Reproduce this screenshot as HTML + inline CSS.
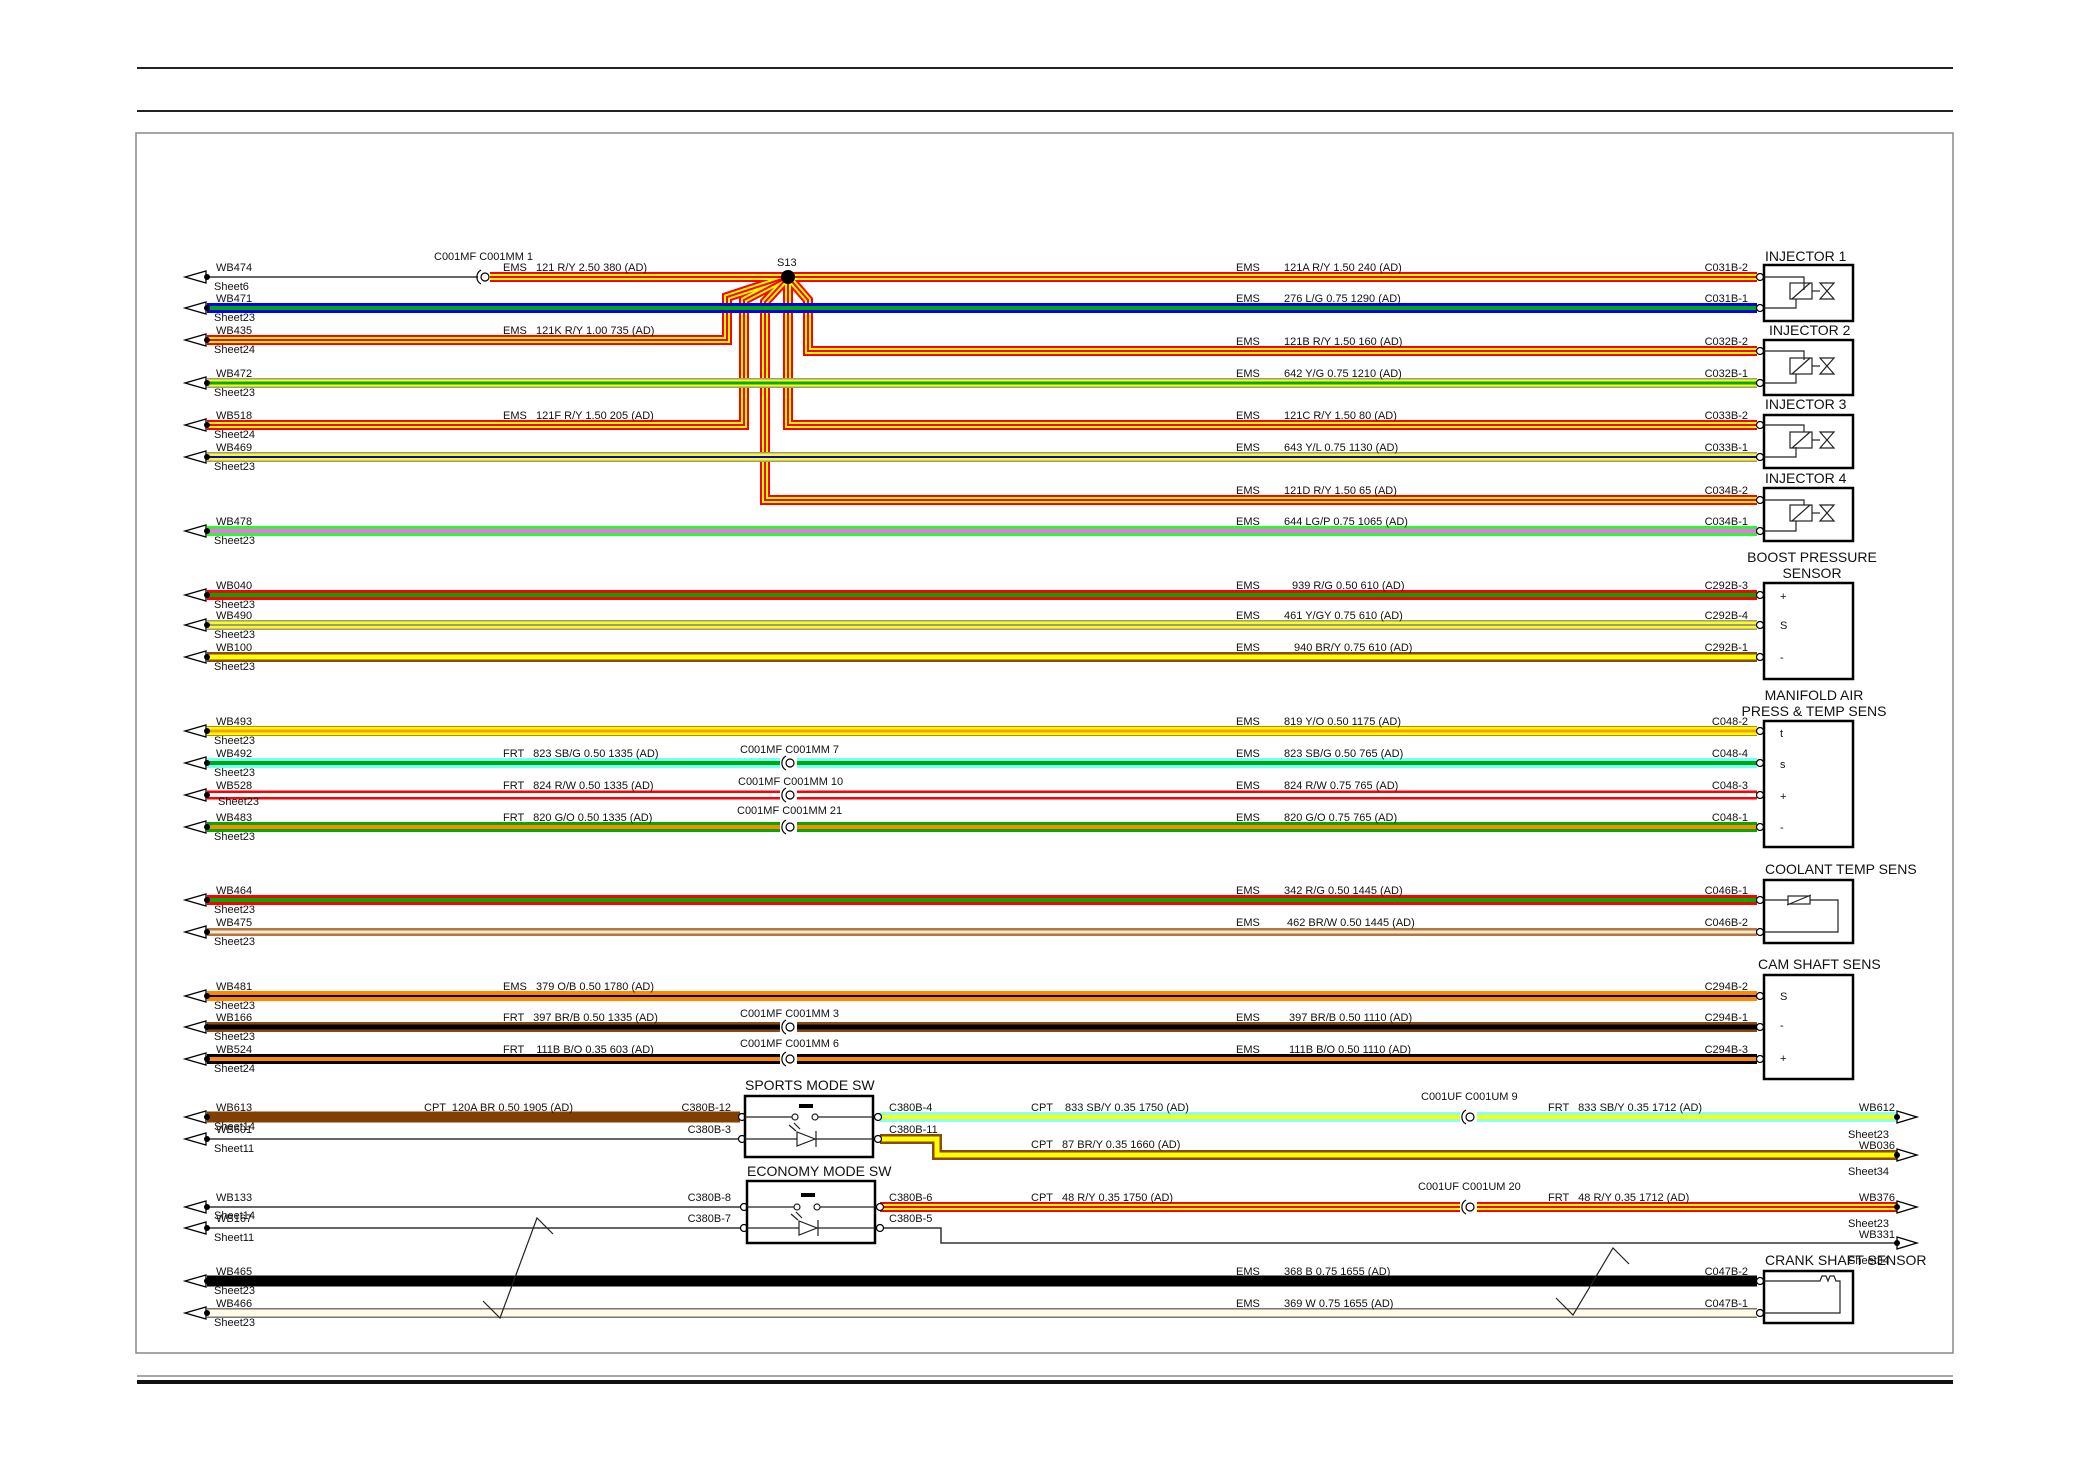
<!DOCTYPE html>
<html><head><meta charset="utf-8"><style>
html,body{margin:0;padding:0;background:#fff}
svg{display:block}
text{font-family:"Liberation Sans",sans-serif;font-size:11px;fill:#111}
.t{font-size:14px}
polyline{fill:none;stroke-linejoin:miter}
</style></head><body>
<svg width="2080" height="1471" viewBox="0 0 2080 1471" xmlns="http://www.w3.org/2000/svg">
<rect width="2080" height="1471" fill="#fff"/>
<line x1="137" y1="68" x2="1953" y2="68" stroke="#222" stroke-width="2"/>
<line x1="137" y1="111" x2="1953" y2="111" stroke="#222" stroke-width="2"/>
<rect x="136" y="133" width="1817" height="1220" fill="none" stroke="#888" stroke-width="1.5"/>
<line x1="137" y1="1376" x2="1953" y2="1376" stroke="#888" stroke-width="1.5"/>
<line x1="137" y1="1382" x2="1953" y2="1382" stroke="#111" stroke-width="4"/>

<g stroke="#333" stroke-width="1.5" fill="none">
<line x1="207" y1="277" x2="478" y2="277"/>
<line x1="207" y1="1139" x2="740" y2="1139"/>
<line x1="207" y1="1207" x2="740" y2="1207"/>
<line x1="207" y1="1228" x2="740" y2="1228"/>
<polyline points="880,1228 941,1228 941,1243 1897,1243"/>
</g>

<g id="ry">
<polyline points="490,277 1757,277" stroke="#f00" stroke-width="10"/>
<polyline points="207,340 727,340 727,297 788,277" stroke="#f00" stroke-width="10"/>
<polyline points="207,425 744,425 744,300 788,277" stroke="#f00" stroke-width="10"/>
<polyline points="788,277 765,302 765,500 1757,500" stroke="#f00" stroke-width="10"/>
<polyline points="788,277 788,425 1757,425" stroke="#f00" stroke-width="10"/>
<polyline points="788,277 808,300 808,351 1757,351" stroke="#f00" stroke-width="10"/>
<polyline points="880,1207 1757,1207 1897,1207" stroke="#f00" stroke-width="10"/>
<polyline points="490,277 1757,277" stroke="#ff0" stroke-width="6"/>
<polyline points="207,340 727,340 727,297 788,277" stroke="#ff0" stroke-width="6"/>
<polyline points="207,425 744,425 744,300 788,277" stroke="#ff0" stroke-width="6"/>
<polyline points="788,277 765,302 765,500 1757,500" stroke="#ff0" stroke-width="6"/>
<polyline points="788,277 788,425 1757,425" stroke="#ff0" stroke-width="6"/>
<polyline points="788,277 808,300 808,351 1757,351" stroke="#ff0" stroke-width="6"/>
<polyline points="880,1207 1897,1207" stroke="#ff0" stroke-width="6"/>
<polyline points="490,277 1757,277" stroke="#f00" stroke-width="2"/>
<polyline points="207,340 727,340 727,297 788,277" stroke="#f00" stroke-width="2"/>
<polyline points="207,425 744,425 744,300 788,277" stroke="#f00" stroke-width="2"/>
<polyline points="788,277 765,302 765,500 1757,500" stroke="#f00" stroke-width="2"/>
<polyline points="788,277 788,425 1757,425" stroke="#f00" stroke-width="2"/>
<polyline points="788,277 808,300 808,351 1757,351" stroke="#f00" stroke-width="2"/>
<polyline points="880,1207 1897,1207" stroke="#f00" stroke-width="2"/>
</g>
<circle cx="788" cy="277" r="7" fill="#000"/>

<g>
<line x1="207" y1="308" x2="1757" y2="308" stroke="#00f" stroke-width="10"/><line x1="207" y1="308" x2="1757" y2="308" stroke="#0a0" stroke-width="4"/>
<line x1="207" y1="383" x2="1757" y2="383" stroke="#999" stroke-width="10"/><line x1="207" y1="383" x2="1757" y2="383" stroke="#ff0" stroke-width="7"/><line x1="207" y1="383" x2="1757" y2="383" stroke="#0a0" stroke-width="3"/>
<line x1="207" y1="457" x2="1757" y2="457" stroke="#999" stroke-width="10"/><line x1="207" y1="457" x2="1757" y2="457" stroke="#ff0" stroke-width="7"/><line x1="207" y1="457" x2="1757" y2="457" stroke="#00f" stroke-width="2"/>
<line x1="207" y1="531" x2="1757" y2="531" stroke="#2f2" stroke-width="10"/><line x1="207" y1="531" x2="1757" y2="531" stroke="#f6f" stroke-width="4"/>
<line x1="207" y1="595" x2="1757" y2="595" stroke="#f00" stroke-width="10"/><line x1="207" y1="595" x2="1757" y2="595" stroke="#0a0" stroke-width="4"/>
<line x1="207" y1="625" x2="1757" y2="625" stroke="#999" stroke-width="10"/><line x1="207" y1="625" x2="1757" y2="625" stroke="#ff0" stroke-width="7"/><line x1="207" y1="625" x2="1757" y2="625" stroke="#999" stroke-width="2"/>
<line x1="207" y1="657" x2="1757" y2="657" stroke="#8b4a10" stroke-width="10"/><line x1="207" y1="657" x2="1757" y2="657" stroke="#ff0" stroke-width="5"/>
<line x1="207" y1="731" x2="1757" y2="731" stroke="#b09000" stroke-width="10"/><line x1="207" y1="731" x2="1757" y2="731" stroke="#ff0" stroke-width="8"/><line x1="207" y1="731" x2="1757" y2="731" stroke="#f90" stroke-width="3"/>
<line x1="207" y1="763" x2="1757" y2="763" stroke="#7ff" stroke-width="10"/><line x1="207" y1="763" x2="1757" y2="763" stroke="#0a0" stroke-width="4"/>
<line x1="207" y1="795" x2="1757" y2="795" stroke="#f00" stroke-width="9"/><line x1="207" y1="795" x2="1757" y2="795" stroke="#fff" stroke-width="4"/>
<line x1="207" y1="827" x2="1757" y2="827" stroke="#0a0" stroke-width="10"/><line x1="207" y1="827" x2="1757" y2="827" stroke="#f80" stroke-width="4"/>
<line x1="207" y1="900" x2="1757" y2="900" stroke="#f00" stroke-width="10"/><line x1="207" y1="900" x2="1757" y2="900" stroke="#0a0" stroke-width="4"/>
<line x1="207" y1="932" x2="1757" y2="932" stroke="#b07840" stroke-width="8"/><line x1="207" y1="932" x2="1757" y2="932" stroke="#f4e6cc" stroke-width="3"/>
<line x1="207" y1="996" x2="1757" y2="996" stroke="#f80" stroke-width="10"/><line x1="207" y1="996" x2="1757" y2="996" stroke="#000" stroke-width="2"/>
<line x1="207" y1="1027" x2="1757" y2="1027" stroke="#8b4a10" stroke-width="10"/><line x1="207" y1="1027" x2="1757" y2="1027" stroke="#000" stroke-width="5"/>
<line x1="207" y1="1059" x2="1757" y2="1059" stroke="#000" stroke-width="10"/><line x1="207" y1="1059" x2="1757" y2="1059" stroke="#f80" stroke-width="4"/>
<line x1="207" y1="1117" x2="740" y2="1117" stroke="#804000" stroke-width="11"/>
<line x1="880" y1="1117" x2="1897" y2="1117" stroke="#8ff" stroke-width="10"/><line x1="880" y1="1117" x2="1897" y2="1117" stroke="#ff0" stroke-width="4"/>
<polyline points="880,1139 937,1139 937,1155 1897,1155" stroke="#8b4a10" stroke-width="10"/><polyline points="880,1139 937,1139 937,1155 1897,1155" stroke="#ff0" stroke-width="5"/>
<line x1="207" y1="1281" x2="1757" y2="1281" stroke="#000" stroke-width="11"/>
<line x1="207" y1="1313" x2="1757" y2="1313" stroke="#777" stroke-width="10"/><line x1="207" y1="1313" x2="1757" y2="1313" stroke="#fffbe6" stroke-width="7"/>
</g>

<polyline points="483,1301 500,1318 537,1218 553,1234" stroke="#222" stroke-width="1.2" fill="none"/>
<polyline points="1556,1298 1573,1315 1613,1248 1629,1264" stroke="#222" stroke-width="1.2" fill="none"/>

<g stroke="#000" stroke-width="1.2" fill="#fff">
<rect x="479" y="271" width="10" height="12" stroke="none"/>
<circle cx="485" cy="277" r="4"/><path d="M481,270 A8,8 0 0 0 481,284" fill="none"/>
<rect x="780" y="757" width="17" height="12" stroke="none"/><circle cx="790" cy="763" r="4"/><path d="M786,756 A8,8 0 0 0 786,770" fill="none"/>
<rect x="780" y="789" width="17" height="12" stroke="none"/><circle cx="790" cy="795" r="4"/><path d="M786,788 A8,8 0 0 0 786,802" fill="none"/>
<rect x="780" y="821" width="17" height="12" stroke="none"/><circle cx="790" cy="827" r="4"/><path d="M786,820 A8,8 0 0 0 786,834" fill="none"/>
<rect x="780" y="1021" width="17" height="12" stroke="none"/><circle cx="790" cy="1027" r="4"/><path d="M786,1020 A8,8 0 0 0 786,1034" fill="none"/>
<rect x="780" y="1053" width="17" height="12" stroke="none"/><circle cx="790" cy="1059" r="4"/><path d="M786,1052 A8,8 0 0 0 786,1066" fill="none"/>
<rect x="1460" y="1111" width="17" height="12" stroke="none"/><circle cx="1470" cy="1117" r="4"/><path d="M1466,1110 A8,8 0 0 0 1466,1124" fill="none"/>
<rect x="1460" y="1201" width="17" height="12" stroke="none"/><circle cx="1470" cy="1207" r="4"/><path d="M1466,1200 A8,8 0 0 0 1466,1214" fill="none"/>
</g>

<g fill="#fff" stroke="#000" stroke-width="1.3">
<polygon points="185,277 206,271 206,283"/><polygon points="185,308 206,302 206,314"/><polygon points="185,340 206,334 206,346"/>
<polygon points="185,383 206,377 206,389"/><polygon points="185,425 206,419 206,431"/><polygon points="185,457 206,451 206,463"/>
<polygon points="185,531 206,525 206,537"/><polygon points="185,595 206,589 206,601"/><polygon points="185,625 206,619 206,631"/>
<polygon points="185,657 206,651 206,663"/><polygon points="185,731 206,725 206,737"/><polygon points="185,763 206,757 206,769"/>
<polygon points="185,795 206,789 206,801"/><polygon points="185,827 206,821 206,833"/><polygon points="185,900 206,894 206,906"/>
<polygon points="185,932 206,926 206,938"/><polygon points="185,996 206,990 206,1002"/><polygon points="185,1027 206,1021 206,1033"/>
<polygon points="185,1059 206,1053 206,1065"/><polygon points="185,1117 206,1111 206,1123"/><polygon points="185,1139 206,1133 206,1145"/>
<polygon points="185,1207 206,1201 206,1213"/><polygon points="185,1228 206,1222 206,1234"/><polygon points="185,1281 206,1275 206,1287"/>
<polygon points="185,1313 206,1307 206,1319"/>
<polygon points="1917,1117 1897,1111 1897,1123"/><polygon points="1917,1155 1897,1149 1897,1161"/>
<polygon points="1917,1207 1897,1201 1897,1213"/><polygon points="1917,1243 1897,1237 1897,1249"/>
</g>
<g fill="#000">
<circle cx="207" cy="277" r="3"/><circle cx="207" cy="308" r="3"/><circle cx="207" cy="340" r="3"/><circle cx="207" cy="383" r="3"/><circle cx="207" cy="425" r="3"/><circle cx="207" cy="457" r="3"/><circle cx="207" cy="531" r="3"/><circle cx="207" cy="595" r="3"/><circle cx="207" cy="625" r="3"/><circle cx="207" cy="657" r="3"/><circle cx="207" cy="731" r="3"/><circle cx="207" cy="763" r="3"/><circle cx="207" cy="795" r="3"/><circle cx="207" cy="827" r="3"/><circle cx="207" cy="900" r="3"/><circle cx="207" cy="932" r="3"/><circle cx="207" cy="996" r="3"/><circle cx="207" cy="1027" r="3"/><circle cx="207" cy="1059" r="3"/><circle cx="207" cy="1117" r="3"/><circle cx="207" cy="1139" r="3"/><circle cx="207" cy="1207" r="3"/><circle cx="207" cy="1228" r="3"/><circle cx="207" cy="1281" r="3"/><circle cx="207" cy="1313" r="3"/>
<circle cx="1897" cy="1117" r="3"/><circle cx="1897" cy="1155" r="3"/><circle cx="1897" cy="1207" r="3"/><circle cx="1897" cy="1243" r="3"/>
</g>

<g fill="#fff" stroke="#000" stroke-width="1.2">
<circle cx="1760" cy="277" r="3.5"/><circle cx="1760" cy="308" r="3.5"/><circle cx="1760" cy="351" r="3.5"/><circle cx="1760" cy="383" r="3.5"/>
<circle cx="1760" cy="425" r="3.5"/><circle cx="1760" cy="457" r="3.5"/><circle cx="1760" cy="500" r="3.5"/><circle cx="1760" cy="531" r="3.5"/>
<circle cx="1760" cy="595" r="3.5"/><circle cx="1760" cy="625" r="3.5"/><circle cx="1760" cy="657" r="3.5"/>
<circle cx="1760" cy="731" r="3.5"/><circle cx="1760" cy="763" r="3.5"/><circle cx="1760" cy="795" r="3.5"/><circle cx="1760" cy="827" r="3.5"/>
<circle cx="1760" cy="900" r="3.5"/><circle cx="1760" cy="932" r="3.5"/>
<circle cx="1760" cy="996" r="3.5"/><circle cx="1760" cy="1027" r="3.5"/><circle cx="1760" cy="1059" r="3.5"/>
<circle cx="1760" cy="1281" r="3.5"/><circle cx="1760" cy="1313" r="3.5"/>
<circle cx="742" cy="1117" r="3.5"/><circle cx="742" cy="1139" r="3.5"/><circle cx="744" cy="1207" r="3.5"/><circle cx="744" cy="1228" r="3.5"/>
<circle cx="878" cy="1117" r="3.5"/><circle cx="878" cy="1139" r="3.5"/><circle cx="880" cy="1207" r="3.5"/><circle cx="880" cy="1228" r="3.5"/>
</g>

<g fill="none" stroke="#000" stroke-width="2.5">
<rect x="1764" y="265" width="89" height="56"/><rect x="1764" y="340" width="89" height="55"/>
<rect x="1764" y="415" width="89" height="53"/><rect x="1764" y="488" width="89" height="53"/>
<rect x="1764" y="583" width="89" height="96"/><rect x="1764" y="721" width="89" height="126"/>
<rect x="1764" y="880" width="89" height="63"/><rect x="1764" y="975" width="89" height="104"/>
<rect x="1764" y="1271" width="89" height="52"/>
<rect x="745" y="1096" width="128" height="61"/><rect x="747" y="1181" width="128" height="62"/>
</g>
<g fill="none" stroke="#222" stroke-width="1.2">
<polyline points="1764,277 1804,277 1804,290"/><polyline points="1764,308 1796,308 1796,299"/><rect x="1790" y="283" width="22" height="16"/><line x1="1792" y1="299" x2="1810" y2="283"/><line x1="1812" y1="291" x2="1820" y2="291"/><path d="M1820,283 L1834,299 L1820,299 L1834,283 Z"/>
<polyline points="1764,351 1804,351 1804,360"/><polyline points="1764,383 1796,383 1796,374"/><rect x="1790" y="358" width="22" height="16"/><line x1="1792" y1="374" x2="1810" y2="358"/><line x1="1812" y1="366" x2="1820" y2="366"/><path d="M1820,358 L1834,374 L1820,374 L1834,358 Z"/>
<polyline points="1764,425 1804,425 1804,432"/><polyline points="1764,457 1796,457 1796,447"/><rect x="1790" y="432" width="22" height="16"/><line x1="1792" y1="448" x2="1810" y2="432"/><line x1="1812" y1="440" x2="1820" y2="440"/><path d="M1820,432 L1834,448 L1820,448 L1834,432 Z"/>
<polyline points="1764,500 1804,500 1804,505"/><polyline points="1764,531 1796,531 1796,521"/><rect x="1790" y="505" width="22" height="16"/><line x1="1792" y1="521" x2="1810" y2="505"/><line x1="1812" y1="513" x2="1820" y2="513"/><path d="M1820,505 L1834,521 L1820,521 L1834,505 Z"/>
<polyline points="1764,900 1838,900 1838,932 1764,932"/><rect x="1788" y="896" width="22" height="8" fill="#fff"/><line x1="1787" y1="905" x2="1811" y2="895"/>
<polyline points="1764,1281 1820,1281 1822,1276 1826,1276 1828,1281 1830,1276 1834,1276 1836,1281 1840,1281 1840,1313 1764,1313"/>
<line x1="745" y1="1117" x2="792" y2="1117"/><line x1="818" y1="1117" x2="873" y2="1117"/>
<circle cx="795" cy="1117" r="3" fill="#fff"/><circle cx="815" cy="1117" r="3" fill="#fff"/>
<line x1="745" y1="1139" x2="873" y2="1139"/><polygon points="797,1132 797,1146 815,1139" fill="#fff"/><line x1="816" y1="1131" x2="816" y2="1147"/>
<line x1="789" y1="1125" x2="796" y2="1131"/><line x1="794" y1="1123" x2="800" y2="1129"/>
<line x1="747" y1="1207" x2="794" y2="1207"/><line x1="820" y1="1207" x2="875" y2="1207"/>
<circle cx="797" cy="1207" r="3" fill="#fff"/><circle cx="817" cy="1207" r="3" fill="#fff"/>
<line x1="747" y1="1228" x2="875" y2="1228"/><polygon points="799,1221 799,1235 817,1228" fill="#fff"/><line x1="818" y1="1220" x2="818" y2="1236"/>
<line x1="791" y1="1214" x2="798" y2="1220"/><line x1="796" y1="1212" x2="802" y2="1218"/>
</g>
<rect x="799" y="1104" width="14" height="4" fill="#000"/><rect x="801" y="1193" width="14" height="4" fill="#000"/>

<g>
<text x="216" y="271">WB474</text><text x="214" y="290">Sheet6</text>
<text x="216" y="302">WB471</text><text x="214" y="321">Sheet23</text>
<text x="216" y="334">WB435</text><text x="214" y="353">Sheet24</text>
<text x="216" y="377">WB472</text><text x="214" y="396">Sheet23</text>
<text x="216" y="419">WB518</text><text x="214" y="438">Sheet24</text>
<text x="216" y="451">WB469</text><text x="214" y="470">Sheet23</text>
<text x="216" y="525">WB478</text><text x="214" y="544">Sheet23</text>
<text x="216" y="589">WB040</text><text x="214" y="608">Sheet23</text>
<text x="216" y="619">WB490</text><text x="214" y="638">Sheet23</text>
<text x="216" y="651">WB100</text><text x="214" y="670">Sheet23</text>
<text x="216" y="725">WB493</text><text x="214" y="744">Sheet23</text>
<text x="216" y="757">WB492</text><text x="214" y="776">Sheet23</text>
<text x="216" y="789">WB528</text><text x="218" y="805">Sheet23</text>
<text x="216" y="821">WB483</text><text x="214" y="840">Sheet23</text>
<text x="216" y="894">WB464</text><text x="214" y="913">Sheet23</text>
<text x="216" y="926">WB475</text><text x="214" y="945">Sheet23</text>
<text x="216" y="990">WB481</text><text x="214" y="1009">Sheet23</text>
<text x="216" y="1021">WB166</text><text x="214" y="1040">Sheet23</text>
<text x="216" y="1053">WB524</text><text x="214" y="1072">Sheet24</text>
<text x="216" y="1111">WB613</text><text x="214" y="1130">Sheet14</text><text x="216" y="1133">WB601</text><text x="214" y="1152">Sheet11</text>
<text x="216" y="1201">WB133</text><text x="214" y="1219">Sheet14</text><text x="216" y="1222">WB167</text><text x="214" y="1241">Sheet11</text>
<text x="216" y="1275">WB465</text><text x="214" y="1294">Sheet23</text>
<text x="216" y="1307">WB466</text><text x="214" y="1326">Sheet23</text>
</g>
<g>
<text x="434" y="260">C001MF C001MM 1</text><text x="777" y="266">S13</text>
<text x="503" y="271">EMS &#160; 121 R/Y 2.50 380 (AD)</text>
<text x="503" y="334">EMS &#160; 121K R/Y 1.00 735 (AD)</text>
<text x="503" y="419">EMS &#160; 121F R/Y 1.50 205 (AD)</text>
<text x="503" y="757">FRT &#160; 823 SB/G 0.50 1335 (AD)</text>
<text x="503" y="789">FRT &#160; 824 R/W 0.50 1335 (AD)</text>
<text x="503" y="821">FRT &#160; 820 G/O 0.50 1335 (AD)</text>
<text x="503" y="990">EMS &#160; 379 O/B 0.50 1780 (AD)</text>
<text x="503" y="1021">FRT &#160; 397 BR/B 0.50 1335 (AD)</text>
<text x="503" y="1053">FRT &#160;&#160; 111B B/O 0.35 603 (AD)</text>
<text x="424" y="1111">CPT &#160;120A BR 0.50 1905 (AD)</text>
<text x="740" y="753">C001MF C001MM 7</text><text x="738" y="785">C001MF C001MM 10</text><text x="737" y="814">C001MF C001MM 21</text>
<text x="740" y="1017">C001MF C001MM 3</text><text x="740" y="1047">C001MF C001MM 6</text>
<g><text x="1236" y="271">EMS</text><text x="1236" y="302">EMS</text><text x="1236" y="345">EMS</text><text x="1236" y="377">EMS</text><text x="1236" y="419">EMS</text><text x="1236" y="451">EMS</text><text x="1236" y="494">EMS</text><text x="1236" y="525">EMS</text><text x="1236" y="589">EMS</text><text x="1236" y="619">EMS</text><text x="1236" y="651">EMS</text><text x="1236" y="725">EMS</text><text x="1236" y="757">EMS</text><text x="1236" y="789">EMS</text><text x="1236" y="821">EMS</text><text x="1236" y="894">EMS</text><text x="1236" y="926">EMS</text><text x="1236" y="1021">EMS</text><text x="1236" y="1053">EMS</text><text x="1236" y="1275">EMS</text><text x="1236" y="1307">EMS</text></g>
<text x="1284" y="271">121A R/Y 1.50 240 (AD)</text>
<text x="1284" y="302">276 L/G 0.75 1290 (AD)</text>
<text x="1284" y="345">121B R/Y 1.50 160 (AD)</text>
<text x="1284" y="377">642 Y/G 0.75 1210 (AD)</text>
<text x="1284" y="419">121C R/Y 1.50 80 (AD)</text>
<text x="1284" y="451">643 Y/L 0.75 1130 (AD)</text>
<text x="1284" y="494">121D R/Y 1.50 65 (AD)</text>
<text x="1284" y="525">644 LG/P 0.75 1065 (AD)</text>
<text x="1292" y="589">939 R/G 0.50 610 (AD)</text>
<text x="1284" y="619">461 Y/GY 0.75 610 (AD)</text>
<text x="1294" y="651">940 BR/Y 0.75 610 (AD)</text>
<text x="1284" y="725">819 Y/O 0.50 1175 (AD)</text>
<text x="1284" y="757">823 SB/G 0.50 765 (AD)</text>
<text x="1284" y="789">824 R/W 0.75 765 (AD)</text>
<text x="1284" y="821">820 G/O 0.75 765 (AD)</text>
<text x="1284" y="894">342 R/G 0.50 1445 (AD)</text>
<text x="1287" y="926">462 BR/W 0.50 1445 (AD)</text>
<text x="1289" y="1021">397 BR/B 0.50 1110 (AD)</text>
<text x="1289" y="1053">111B B/O 0.50 1110 (AD)</text>
<text x="1284" y="1275">368 B 0.75 1655 (AD)</text>
<text x="1284" y="1307">369 W 0.75 1655 (AD)</text>
<text x="1031" y="1111">CPT &#160;&#160; 833 SB/Y 0.35 1750 (AD)</text>
<text x="1031" y="1148">CPT &#160; 87 BR/Y 0.35 1660 (AD)</text>
<text x="1031" y="1201">CPT &#160; 48 R/Y 0.35 1750 (AD)</text>
<text x="1548" y="1111">FRT &#160; 833 SB/Y 0.35 1712 (AD)</text>
<text x="1548" y="1201">FRT &#160; 48 R/Y 0.35 1712 (AD)</text>
<text x="1421" y="1100">C001UF C001UM 9</text><text x="1418" y="1190">C001UF C001UM 20</text>
<text x="889" y="1111">C380B-4</text><text x="889" y="1133">C380B-11</text><text x="889" y="1201">C380B-6</text><text x="889" y="1222">C380B-5</text>
<g text-anchor="end">
<text x="731" y="1111">C380B-12</text><text x="731" y="1133">C380B-3</text><text x="731" y="1201">C380B-8</text><text x="731" y="1222">C380B-7</text>
<text x="1748" y="271">C031B-2</text><text x="1748" y="302">C031B-1</text><text x="1748" y="345">C032B-2</text><text x="1748" y="377">C032B-1</text>
<text x="1748" y="419">C033B-2</text><text x="1748" y="451">C033B-1</text><text x="1748" y="494">C034B-2</text><text x="1748" y="525">C034B-1</text>
<text x="1748" y="589">C292B-3</text><text x="1748" y="619">C292B-4</text><text x="1748" y="651">C292B-1</text>
<text x="1748" y="725">C048-2</text><text x="1748" y="757">C048-4</text><text x="1748" y="789">C048-3</text><text x="1748" y="821">C048-1</text>
<text x="1748" y="894">C046B-1</text><text x="1748" y="926">C046B-2</text>
<text x="1748" y="990">C294B-2</text><text x="1748" y="1021">C294B-1</text><text x="1748" y="1053">C294B-3</text>
<text x="1748" y="1275">C047B-2</text><text x="1748" y="1307">C047B-1</text>
<text x="1895" y="1111">WB612</text><text x="1889" y="1138">Sheet23</text><text x="1895" y="1149">WB036</text><text x="1889" y="1175">Sheet34</text>
<text x="1895" y="1201">WB376</text><text x="1889" y="1227">Sheet23</text><text x="1895" y="1238">WB331</text><text x="1889" y="1264">Sheet34</text>
</g>
<text x="1780" y="600">+</text><text x="1780" y="629">S</text><text x="1780" y="661">-</text>
<text x="1780" y="737">t</text><text x="1780" y="768">s</text><text x="1780" y="800">+</text><text x="1780" y="831">-</text>
<text x="1780" y="1000">S</text><text x="1780" y="1029">-</text><text x="1780" y="1062">+</text>
</g>
<g class="t">
<text class="t" x="1765" y="261">INJECTOR 1</text><text class="t" x="1769" y="335">INJECTOR 2</text>
<text class="t" x="1765" y="409">INJECTOR 3</text><text class="t" x="1765" y="483">INJECTOR 4</text>
<text class="t" x="1812" y="562" text-anchor="middle">BOOST PRESSURE</text><text class="t" x="1812" y="578" text-anchor="middle">SENSOR</text>
<text class="t" x="1814" y="700" text-anchor="middle">MANIFOLD AIR</text><text class="t" x="1814" y="716" text-anchor="middle">PRESS &amp; TEMP SENS</text>
<text class="t" x="1765" y="874">COOLANT TEMP SENS</text><text class="t" x="1758" y="969">CAM SHAFT SENS</text>
<text class="t" x="1765" y="1265">CRANK SHAFT SENSOR</text>
<text class="t" x="745" y="1090">SPORTS MODE SW</text><text class="t" x="747" y="1176">ECONOMY MODE SW</text>
</g>
</svg>
</body></html>
